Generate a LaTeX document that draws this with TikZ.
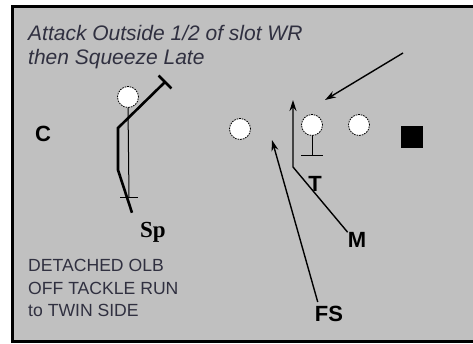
\documentclass[tikz,border=0pt]{standalone}
\usepackage{fontspec}
\setmainfont{Liberation Serif}
\setsansfont{Liberation Sans}
\usetikzlibrary{arrows.meta,positioning}
\definecolor{FieldGray}{HTML}{C0C0C0}
\definecolor{NoteInk}{HTML}{303040}

\begin{document}
\begin{tikzpicture}[
  x=1pt,y=-1pt,
  font=\sffamily,
  man/.style={
    circle,
    draw=black,
    fill=white,
    line width=0.8pt,
    dash pattern=on 1.6pt off 1pt,
    minimum size=21pt,
    inner sep=0pt
  },
  lbl/.style={font=\sffamily\bfseries\fontsize{22}{22}\selectfont,inner sep=0pt},
  note/.style={text=NoteInk,anchor=base west,inner sep=0pt},
  route/.style={line width=1.4pt,draw=black},
  arrow/.style={route,-{Stealth[length=11pt,width=7pt]}}
]
  % page and field
  \fill[white] (0,0) rectangle (473,343);
  \useasboundingbox (0,0) rectangle (473,343);
  \draw[line width=3pt,fill=FieldGray] (12,6.5) rectangle (480,341.5);

  % call text
  \node[note,font=\sffamily\itshape\fontsize{21}{24}\selectfont] (title1) at (28,40.5) {Attack Outside 1/2 of slot WR};
  \node[note,font=\sffamily\itshape\fontsize{21}{24}\selectfont] (title2) at (28,64.5) {then Squeeze Late};
  \node[note,font=\sffamily\fontsize{17.6}{22}\selectfont] (note1) at (28,271.5) {DETACHED OLB};
  \node[note,font=\sffamily\fontsize{17.6}{22}\selectfont] (note2) at (28,294) {OFF TACKLE RUN};
  \node[note,font=\sffamily\fontsize{17.6}{22}\selectfont] (note3) at (28,316.5) {to TWIN SIDE};

  % offense
  \node[man] (olb) at (128,97) {};
  \node[man] (guard) at (240,129) {};
  \node[man] (tackle) at (312,125) {};
  \node[man] (tend) at (359,125) {};
  \node[rectangle,fill=black,minimum size=22pt,inner sep=0pt] (wing) at (412,136.5) {};

  % defense
  \node[lbl] (c) at (43,133.5) {C};
  \node[lbl,font=\rmfamily\bfseries\fontsize{23}{23}\selectfont] (sp) at (153,232) {Sp};
  \node[lbl] (t) at (315,183.5) {T};
  \node[lbl] (m) at (357,240) {M};
  \node[lbl] (fs) at (329,314) {FS};

  % olb block
  \coordinate (olbStop) at (129,197);
  \draw[route,line width=1pt] (olb.south) -- (olbStop);
  \draw[route,line width=1pt] ([xshift=-9pt]olbStop) -- ([xshift=9pt]olbStop);

  % Sp attack
  \coordinate (spBend) at (118,170);
  \coordinate (spKnee) at (118,128);
  \coordinate (spHit) at (165,82);
  \draw[route,line width=2.6pt] ([xshift=-8pt,yshift=9pt]sp.north west) -- (spBend) -- (spKnee) -- (spHit);
  \draw[route,line width=2.6pt] (158.6,75.5) -- (171.4,88.5);

  % tackle block
  \coordinate (tackleStop) at (312,155);
  \draw[route,line width=1pt] (tackle.south) -- (tackleStop);
  \draw[route,line width=1pt] ([xshift=-11pt]tackleStop) -- ([xshift=11pt]tackleStop);

  % M scrape
  \coordinate (mTurn) at (293,167);
  \coordinate (mTip) at (293,100);
  \draw[arrow] (m.north west) -- (mTurn) -- (mTip);

  % FS fill
  \coordinate (fsTip) at (272,140);
  \draw[arrow] ([xshift=3pt,yshift=4pt]fs.north west) -- (fsTip);

  % C / WR release
  \coordinate (wrFrom) at (403,53);
  \coordinate (wrTip) at (325,100);
  \draw[arrow] (wrFrom) -- (wrTip);
\end{tikzpicture}
\end{document}
